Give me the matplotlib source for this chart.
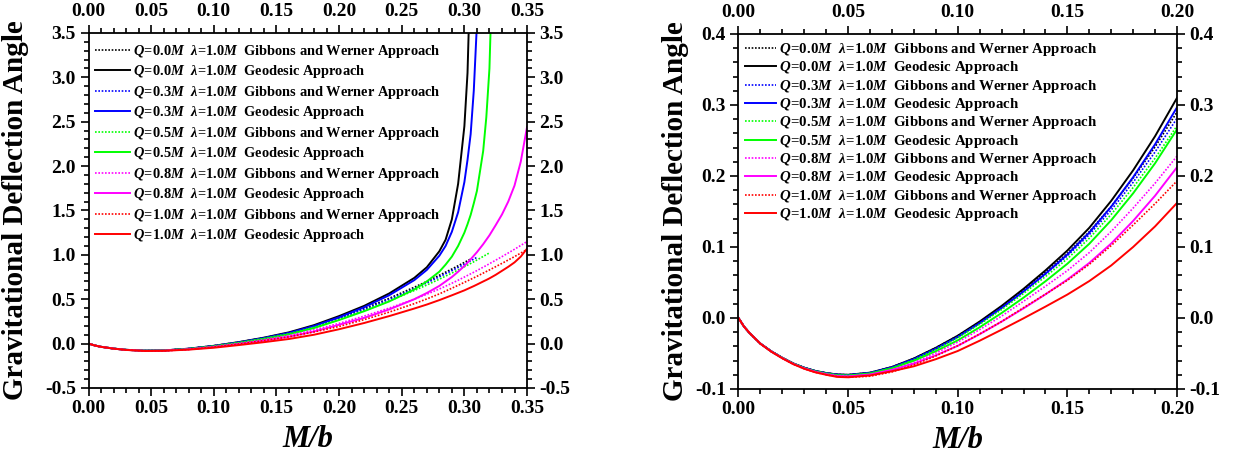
import numpy as np
import matplotlib
matplotlib.use('Agg')
import matplotlib.pyplot as plt
from matplotlib.ticker import MultipleLocator, FormatStrFormatter

nan = np.nan

# left panel, M/b from 0 to 0.35
xl = [0, 0.005, 0.01, 0.02, 0.03, 0.045, 0.06, 0.08, 0.10, 0.12, 0.14, 0.16, 0.18, 0.20,
      0.22, 0.24, 0.26, 0.27, 0.28, 0.285, 0.29, 0.295,
      0.30, 0.3025, 0.305, 0.3075, 0.31, 0.315, 0.3175, 0.32,
      0.325, 0.33, 0.335, 0.34, 0.345, 0.35]

l_geo_q00 = [0, -0.021, -0.036, -0.056, -0.070, -0.0795, -0.077, -0.057, -0.025, 0.017, 0.067, 0.127, 0.208, 0.310,
             0.425, 0.565, 0.74, 0.86, 1.04, 1.17, 1.40, 1.80,
             2.45, 3.05, 4.3, nan, nan, nan, nan, nan,
             nan, nan, nan, nan, nan, nan]
l_gw_q00 = [0, -0.021, -0.036, -0.056, -0.070, -0.0795, -0.077, -0.057, -0.025, 0.016, 0.0645, 0.1215, 0.197, 0.290,
            0.395, 0.51, 0.635, 0.70, 0.77, 0.805, 0.84, 0.877,
            0.915, 0.934, 0.953, nan, nan, nan, nan, nan,
            nan, nan, nan, nan, nan, nan]
l_geo_q03 = [0, -0.021, -0.036, -0.0561, -0.0701, -0.0798, -0.0774, -0.058, -0.0269, 0.014, 0.0624, 0.1203, 0.1983, 0.2967,
             0.41, 0.545, 0.715, 0.83, 0.99, 1.10, 1.26, 1.48,
             1.82, 2.07, 2.36, 2.85, 3.6, nan, nan, nan,
             nan, nan, nan, nan, nan, nan]
l_gw_q03 = [0, -0.021, -0.036, -0.0561, -0.0701, -0.0798, -0.0775, -0.0578, -0.0263, 0.0141, 0.0617, 0.1174, 0.1911, 0.2813,
            0.385, 0.498, 0.62, 0.684, 0.752, 0.787, 0.822, 0.858,
            0.895, 0.914, 0.933, 0.952, 0.972, nan, nan, nan,
            nan, nan, nan, nan, nan, nan]
l_geo_q05 = [0, -0.021, -0.0361, -0.0562, -0.0705, -0.0806, -0.0782, -0.0603, -0.0315, 0.007, 0.0517, 0.1045, 0.1756, 0.2656,
             0.365, 0.475, 0.61, 0.70, 0.81, 0.89, 0.98, 1.10,
             1.25, 1.345, 1.45, 1.58, 1.72, 2.17, 2.55, 3.1,
             5.5, nan, nan, nan, nan, nan]
l_gw_q05 = [0, -0.021, -0.0361, -0.0562, -0.0703, -0.0801, -0.078, -0.0588, -0.0278, 0.0118, 0.0583, 0.1123, 0.1838, 0.2706,
            0.37, 0.48, 0.598, 0.66, 0.726, 0.76, 0.795, 0.83,
            0.866, 0.884, 0.903, 0.922, 0.942, 0.982, 1.002, 1.022,
            nan, nan, nan, nan, nan, nan]
l_geo_q08 = [0, -0.021, -0.0362, -0.0565, -0.071, -0.0818, -0.0796, -0.0643, -0.0392, -0.0051, 0.0333, 0.0775, 0.1367, 0.2123,
             0.29, 0.385, 0.50, 0.57, 0.65, 0.70, 0.75, 0.81,
             0.875, 0.912, 0.95, 0.99, 1.03, 1.12, 1.17, 1.22,
             1.335, 1.455, 1.60, 1.78, 2.05, 2.44]
l_gw_q08 = [0, -0.021, -0.0362, -0.0565, -0.071, -0.0814, -0.0802, -0.0628, -0.034, 0.0026, 0.0447, 0.0921, 0.1548, 0.2279,
            0.31, 0.40, 0.50, 0.556, 0.615, 0.647, 0.68, 0.714,
            0.75, 0.768, 0.786, 0.804, 0.823, 0.861, 0.88, 0.90,
            0.94, 0.98, 1.021, 1.063, 1.106, 1.15]
l_geo_q10 = [0, -0.021, -0.0363, -0.0568, -0.0715, -0.083, -0.081, -0.068, -0.0465, -0.0165, 0.016, 0.052, 0.100, 0.162,
             0.232, 0.31, 0.395, 0.44, 0.49, 0.517, 0.544, 0.572,
             0.60, 0.616, 0.632, 0.648, 0.665, 0.70, 0.717, 0.735,
             0.775, 0.82, 0.865, 0.915, 0.98, 1.07]
l_gw_q10 = [0, -0.021, -0.0363, -0.0568, -0.0715, -0.0825, -0.082, -0.066, -0.039, -0.005, 0.0335, 0.0755, 0.131, 0.193,
            0.27, 0.355, 0.45, 0.503, 0.56, 0.592, 0.624, 0.657,
            0.69, 0.707, 0.724, 0.741, 0.758, 0.794, 0.812, 0.83,
            0.867, 0.904, 0.942, 0.98, 1.02, 1.06]

# right panel, M/b from 0 to 0.2
xr = [0, 0.0025, 0.005, 0.01, 0.015, 0.02, 0.025, 0.03, 0.035, 0.04, 0.045, 0.05, 0.06, 0.07,
      0.08, 0.09, 0.10, 0.11, 0.12, 0.13, 0.14, 0.15, 0.16, 0.17, 0.18, 0.19, 0.20]

r_geo_q00 = [0, -0.012, -0.021, -0.036, -0.047, -0.056, -0.064, -0.070, -0.0745, -0.0775, -0.0795, -0.080, -0.077, -0.069,
             -0.057, -0.042, -0.025, -0.005, 0.017, 0.041, 0.067, 0.095, 0.127, 0.165, 0.208, 0.256, 0.310]
r_gw_q00 = [0, -0.012, -0.021, -0.036, -0.047, -0.056, -0.064, -0.070, -0.0745, -0.0775, -0.0795, -0.080, -0.077, -0.069,
            -0.057, -0.042, -0.025, -0.0055, 0.016, 0.0395, 0.0645, 0.091, 0.1215, 0.157, 0.197, 0.241, 0.290]
r_geo_q03 = [0, -0.012, -0.021, -0.036, -0.047, -0.0561, -0.0641, -0.0701, -0.0747, -0.0777, -0.0798, -0.0803, -0.0774, -0.0695,
             -0.0580, -0.0434, -0.0269, -0.0074, 0.0140, 0.0373, 0.0624, 0.0894, 0.1203, 0.1568, 0.1983, 0.2446, 0.2967]
r_gw_q03 = [0, -0.012, -0.021, -0.036, -0.047, -0.0561, -0.0641, -0.0701, -0.0747, -0.0777, -0.0798, -0.0803, -0.0775, -0.0696,
            -0.0578, -0.0430, -0.0263, -0.0070, 0.0141, 0.0373, 0.0617, 0.0876, 0.1174, 0.1521, 0.1911, 0.2338, 0.2813]
r_geo_q05 = [0, -0.012, -0.021, -0.0361, -0.0472, -0.0562, -0.0643, -0.0705, -0.0751, -0.0783, -0.0806, -0.0811, -0.0782, -0.0708,
             -0.0603, -0.0468, -0.0315, -0.0131, 0.0070, 0.0286, 0.0517, 0.0764, 0.1045, 0.1377, 0.1756, 0.2179, 0.2656]
r_gw_q05 = [0, -0.012, -0.021, -0.0361, -0.0471, -0.0562, -0.0642, -0.0703, -0.0749, -0.078, -0.0801, -0.0807, -0.078, -0.0704,
            -0.0588, -0.0443, -0.0278, -0.0089, 0.0118, 0.0345, 0.0583, 0.0834, 0.1123, 0.146, 0.1838, 0.225, 0.2706]
r_geo_q08 = [0, -0.012, -0.021, -0.0362, -0.0473, -0.0565, -0.0647, -0.071, -0.0758, -0.0792, -0.0818, -0.0823, -0.0796, -0.073,
             -0.0643, -0.0526, -0.0392, -0.0228, -0.0051, 0.0136, 0.0333, 0.0541, 0.0775, 0.1049, 0.1367, 0.1722, 0.2123]
r_gw_q08 = [0, -0.012, -0.021, -0.0362, -0.0473, -0.0565, -0.0646, -0.071, -0.0758, -0.0791, -0.0814, -0.0822, -0.0802, -0.0735,
            -0.0628, -0.0494, -0.034, -0.0164, 0.0026, 0.0235, 0.0447, 0.0667, 0.0921, 0.1218, 0.1548, 0.1898, 0.2279]
r_geo_q10 = [0, -0.012, -0.021, -0.0363, -0.0475, -0.0568, -0.065, -0.0715, -0.0765, -0.080, -0.083, -0.0835, -0.081, -0.075,
             -0.068, -0.058, -0.0465, -0.032, -0.0165, -0.0005, 0.016, 0.033, 0.052, 0.074, 0.100, 0.129, 0.162]
r_gw_q10 = [0, -0.012, -0.021, -0.0363, -0.0475, -0.0568, -0.065, -0.0715, -0.0765, -0.080, -0.0825, -0.0835, -0.082, -0.076,
            -0.066, -0.0535, -0.039, -0.0225, -0.005, 0.0145, 0.0335, 0.053, 0.0755, 0.102, 0.131, 0.161, 0.193]

q_labels = ['0.0', '0.3', '0.5', '0.8', '1.0']
colors = ['black', 'blue', '#00ff00', 'magenta', 'red']

plt.rcParams['font.family'] = 'Liberation Serif'
plt.rcParams['font.weight'] = 'bold'
plt.rcParams['mathtext.fontset'] = 'custom'
plt.rcParams['mathtext.rm'] = 'Liberation Serif:bold'
plt.rcParams['mathtext.it'] = 'Liberation Serif:italic:bold'
plt.rcParams['mathtext.bf'] = 'Liberation Serif:bold'
plt.rcParams['mathtext.bfit'] = 'Liberation Serif:italic:bold'


def label(q, approach):
    # \! cancels the padding mathtext puts round '='
    return (r'$\mathit{Q\!=\!' + q + r'M}$  $\mathit{\lambda\!=\!1.0M}$  ' + approach)


def style_axis(ax, xmax, ymin, ymax, ymaj, ymin_step, yfmt):
    ax.set_xlim(0, xmax)
    ax.set_ylim(ymin, ymax)
    ax.xaxis.set_major_locator(MultipleLocator(0.05))
    ax.xaxis.set_minor_locator(MultipleLocator(0.01))
    ax.yaxis.set_major_locator(MultipleLocator(ymaj))
    ax.yaxis.set_minor_locator(MultipleLocator(ymin_step))
    ax.xaxis.set_major_formatter(FormatStrFormatter('%.2f'))
    ax.yaxis.set_major_formatter(FormatStrFormatter(yfmt))
    ax.tick_params(which='both', direction='out', top=True, right=True,
                   labeltop=True, labelright=True, width=1.2, labelsize=14, pad=3)
    ax.tick_params(which='major', length=6)
    ax.tick_params(which='minor', length=3.5)
    for s in ax.spines.values():
        s.set_linewidth(1.3)
    ax.set_ylabel('Gravitational Deflection Angle', fontsize=21, fontweight='bold')
    ax.set_xlabel('M/b', fontsize=22, fontweight='bold', fontstyle='italic')


fig = plt.figure(figsize=(12.43, 4.61), dpi=100)
ax1 = fig.add_axes([0.0712, 0.1584, 0.3528, 0.7701])
ax2 = fig.add_axes([0.5941, 0.1562, 0.3528, 0.7701])

left_geo = [l_geo_q00, l_geo_q03, l_geo_q05, l_geo_q08, l_geo_q10]
left_gw = [l_gw_q00, l_gw_q03, l_gw_q05, l_gw_q08, l_gw_q10]
right_geo = [r_geo_q00, r_geo_q03, r_geo_q05, r_geo_q08, r_geo_q10]
right_gw = [r_gw_q00, r_gw_q03, r_gw_q05, r_gw_q08, r_gw_q10]

for i, q in enumerate(q_labels):
    ax1.plot(xl, left_gw[i], ls=(0, (1, 1)), lw=1.2, color=colors[i],
             label=label(q, 'Gibbons and Werner Approach'))
    ax1.plot(xl, left_geo[i], ls='-', lw=1.4, color=colors[i],
             label=label(q, 'Geodesic Approach'))
    ax2.plot(xr, right_gw[i], ls=(0, (1, 1)), lw=1.2, color=colors[i],
             label=label(q, 'Gibbons and Werner Approach'))
    ax2.plot(xr, right_geo[i], ls='-', lw=1.4, color=colors[i],
             label=label(q, 'Geodesic Approach'))

style_axis(ax1, 0.35, -0.5, 3.5, 0.5, 0.1, '%.1f')
style_axis(ax2, 0.20, -0.1, 0.4, 0.1, 0.02, '%.1f')

ax1.yaxis.set_label_coords(-0.135, 0.5)
ax2.yaxis.set_label_coords(-0.112, 0.5)
ax1.xaxis.set_label_coords(0.5, -0.105)
ax2.xaxis.set_label_coords(0.5, -0.105)

ax1.legend(loc='upper left', bbox_to_anchor=(0.015, 0.972), frameon=False, fontsize=10.4,
           handlelength=2.4, handletextpad=0.2, labelspacing=0.24, borderpad=0, borderaxespad=0)
ax2.legend(loc='upper left', bbox_to_anchor=(0.015, 0.98), frameon=False, fontsize=10.7,
           handlelength=2.05, handletextpad=0.25, labelspacing=0.09, borderpad=0, borderaxespad=0)

fig.savefig('out.png', dpi=100)
